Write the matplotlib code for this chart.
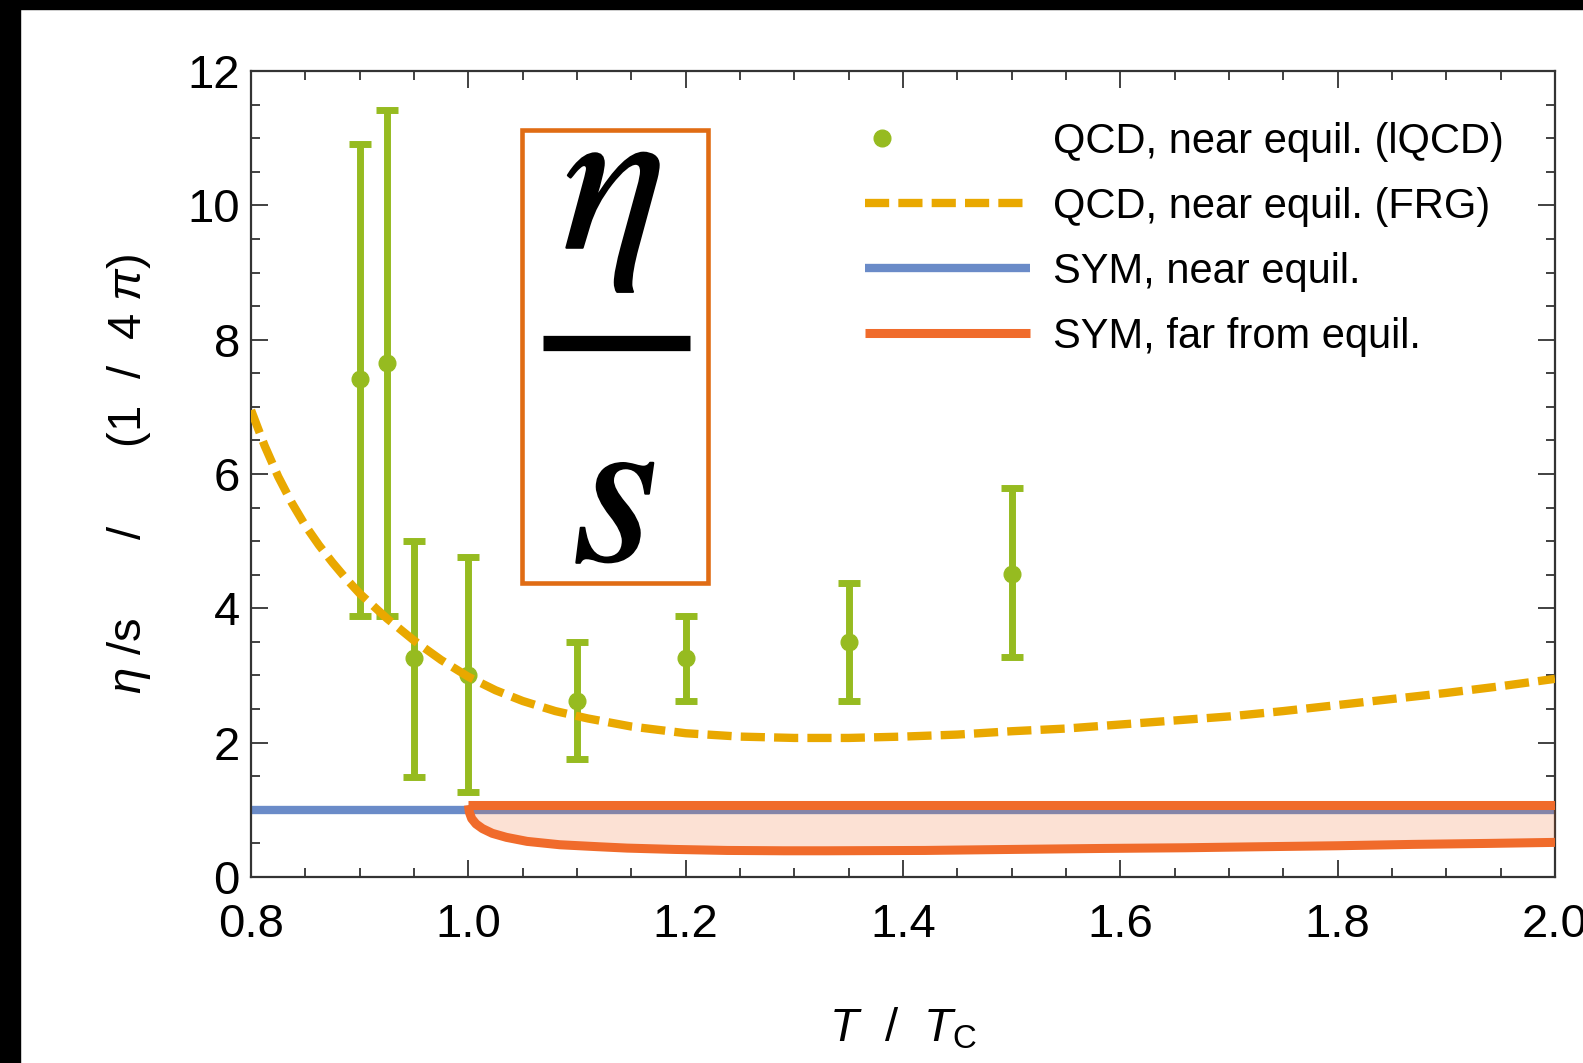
import numpy as np
import matplotlib.pyplot as plt
import matplotlib.patheffects as pe
from matplotlib.patches import Rectangle
from matplotlib.legend_handler import HandlerLine2D
from matplotlib.ticker import MultipleLocator

plt.rcParams['font.family'] = ['Liberation Sans', 'DejaVu Sans']
plt.rcParams['mathtext.fontset'] = 'custom'
plt.rcParams['mathtext.rm'] = 'Liberation Sans'
plt.rcParams['mathtext.it'] = 'Liberation Sans:italic'

# lattice QCD points (value, upper and lower end of the bar)
lqcd_t = [0.90, 0.925, 0.95, 1.00, 1.10, 1.20, 1.35, 1.50]
lqcd_val = [7.41, 7.65, 3.26, 3.01, 2.62, 3.26, 3.50, 4.51]
lqcd_hi = [10.91, 11.42, 5.00, 4.77, 3.50, 3.89, 4.38, 5.79]
lqcd_lo = [3.89, 3.89, 1.49, 1.26, 1.76, 2.62, 2.62, 3.27]

# FRG curve
frg_t = [0.80, 0.8125, 0.825, 0.8375, 0.85, 0.8625, 0.875, 0.8875, 0.90, 0.925,
         0.95, 0.975, 1.00, 1.025, 1.05, 1.08, 1.11, 1.15, 1.20, 1.25, 1.30,
         1.35, 1.40, 1.45, 1.50, 1.55, 1.60, 1.65, 1.70, 1.75, 1.80, 1.85,
         1.90, 1.95, 2.00]
frg_val = [6.95, 6.42, 5.96, 5.57, 5.23, 4.94, 4.68, 4.44, 4.22, 3.85,
           3.52, 3.23, 2.98, 2.78, 2.62, 2.47, 2.36, 2.24, 2.14, 2.09, 2.07,
           2.07, 2.09, 2.12, 2.17, 2.21, 2.27, 2.33, 2.39, 2.47, 2.56, 2.65,
           2.74, 2.84, 2.95]

# SYM near equilibrium
sym_t = [0.8, 2.0]
sym_val = [1.0, 1.0]

# SYM far from equilibrium band
far_t = [1.0, 1.001, 1.003, 1.007, 1.013, 1.022, 1.035, 1.054, 1.084, 1.12,
         1.146, 1.19, 1.238, 1.29, 1.33, 1.42, 1.50, 1.585, 1.66, 1.728, 1.80,
         1.869, 1.94, 2.0]
far_lo = [1.07, 0.96, 0.87, 0.79, 0.72, 0.65, 0.59, 0.53, 0.48, 0.45,
          0.43, 0.41, 0.395, 0.39, 0.39, 0.395, 0.41, 0.425, 0.435, 0.45, 0.465,
          0.485, 0.50, 0.515]
far_hi = [1.07] * len(far_t)

labels = ['QCD, near equil. (lQCD)', 'QCD, near equil. (FRG)',
          'SYM, near equil.', 'SYM, far from equil.']

green = '#96bb20'
gold = '#e9a800'
blue = '#6a8bc8'
orange = '#f06b2b'


class DotLeft(HandlerLine2D):
    # Mathematica puts the dot at the left of the legend swatch
    def create_artists(self, legend, orig_handle, xdescent, ydescent,
                       width, height, fontsize, trans):
        dot = plt.Line2D([-xdescent + 0.1 * width], [(height - ydescent) / 2])
        self.update_prop(dot, orig_handle, legend)
        dot.set_linestyle('none')
        dot.set_transform(trans)
        return [dot]


fig = plt.figure(figsize=(15.83, 10.63), dpi=100)
ax = fig.add_axes([0.1586, 0.175, 0.8237, 0.7582])

sym_line, = ax.plot(sym_t, sym_val, color=blue, lw=6, solid_capstyle='butt', zorder=2)
ax.fill_between(far_t, far_lo, far_hi, color=orange, alpha=0.2, lw=0, zorder=3)
far_line, = ax.plot(far_t, far_hi, color=orange, lw=6.5, zorder=4, solid_capstyle='butt')
ax.plot(far_t, far_lo, color=orange, lw=6.5, zorder=4, solid_capstyle='butt')

yerr = [np.array(lqcd_val) - np.array(lqcd_lo), np.array(lqcd_hi) - np.array(lqcd_val)]
eb = ax.errorbar(lqcd_t, lqcd_val, yerr=yerr, fmt='o', color=green, ms=12,
                 elinewidth=5, capsize=8, capthick=5, zorder=5)
frg, = ax.plot(frg_t, frg_val, color=gold, lw=6, dashes=(2.9, 1.1),
               dash_capstyle='butt', zorder=6)

ax.set_xlim(0.8, 2.0)
ax.set_ylim(0, 12)
ax.xaxis.set_major_locator(MultipleLocator(0.2))
ax.xaxis.set_minor_locator(MultipleLocator(0.05))
ax.yaxis.set_major_locator(MultipleLocator(2))
ax.yaxis.set_minor_locator(MultipleLocator(0.5))
ax.xaxis.set_major_formatter(plt.FormatStrFormatter('%.1f'))
ax.tick_params(which='both', direction='in', top=True, right=True,
               color='#333333', width=1.3, labelsize=34)
ax.tick_params(which='major', length=12)
ax.tick_params(which='minor', length=6.5)
ax.tick_params(axis='x', pad=19)
ax.tick_params(axis='y', pad=8)
for s in ax.spines.values():
    s.set_linewidth(1.6)
    s.set_color('#333333')

ax.set_xlabel(r'$T\ \ /\ \ T_{\mathrm{C}}$', fontsize=34, labelpad=42)
ax.set_ylabel(r'$\eta$ /s      /      (1  /  4 $\pi$)', fontsize=34, labelpad=25)

handles = [eb[0], frg, sym_line, far_line]
ax.legend(handles=handles, labels=labels,
          handler_map={eb[0]: DotLeft()}, frameon=False, fontsize=30,
          loc='upper left', bbox_to_anchor=(0.471, 0.937), borderpad=0,
          borderaxespad=0, handlelength=3.95, handletextpad=0.55,
          labelspacing=0.6, numpoints=1)

# eta / s box
thick = [pe.withStroke(linewidth=1.6, foreground='black')]
ax.add_patch(Rectangle((0.2078, 0.3648), 0.1427, 0.562, transform=ax.transAxes,
                       fill=False, ec='#e06c14', lw=3.3, zorder=7))
ax.plot([0.2236, 0.3363], [0.662, 0.662], transform=ax.transAxes, color='black',
        lw=11, solid_capstyle='butt', zorder=7)
ax.text(0.2768, 0.846, r'$\eta$', transform=ax.transAxes, math_fontfamily='stix',
        fontsize=155, ha='center', va='center', zorder=7, path_effects=thick)
ax.text(0.2784, 0.462, r'$s$', transform=ax.transAxes, math_fontfamily='stix',
        fontsize=158, ha='center', va='center', zorder=7, path_effects=thick)

fig.patches.append(Rectangle((0, 0), 20 / 1583, 1, transform=fig.transFigure,
                             color='black', zorder=10))
fig.patches.append(Rectangle((0, 1 - 9 / 1063), 1, 9 / 1063, transform=fig.transFigure,
                             color='black', zorder=10))

fig.savefig('out.png', dpi=100)
